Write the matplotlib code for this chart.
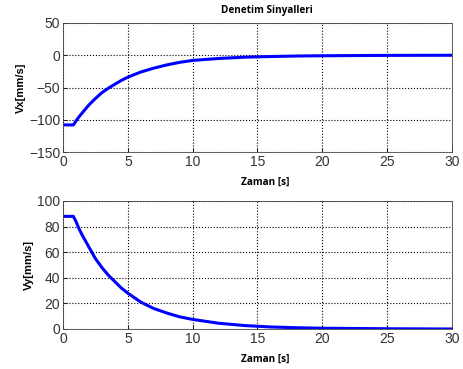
import matplotlib
matplotlib.use('Agg')
import matplotlib.pyplot as plt

# values
t = [0, 0.8, 1.0, 1.25, 1.5, 2, 2.5, 3, 3.5, 4, 4.5, 5, 6, 7, 8, 9, 10, 12, 14, 16, 18, 20, 25, 30]
vx = [-108, -108, -102, -95, -89, -77, -67, -58, -51, -45, -39, -34, -26, -20, -15, -11, -8, -5, -3, -2, -1.2, -0.8, -0.2, 0]
vy = [88, 88, 84, 78, 73, 64, 55, 48, 42, 37, 32, 28, 21, 16, 12.5, 9.5, 7.5, 4.5, 2.7, 1.6, 1.0, 0.6, 0.2, 0]

plt.rcParams['font.family'] = ['Liberation Sans', 'DejaVu Sans']
plt.rcParams['font.size'] = 10

fig = plt.figure(figsize=(4.64, 3.69), dpi=100)
ax1 = fig.add_axes([63 / 464, 1 - 152 / 369, 389 / 464, 129 / 369])
ax2 = fig.add_axes([63 / 464, 1 - 329 / 369, 389 / 464, 128 / 369])

lab_font = ['Open Sans', 'DejaVu Sans']
for ax, y, ylim, yticks, ylab in [
        (ax1, vx, (-150, 50), [-150, -100, -50, 0, 50], 'Vx[mm/s]'),
        (ax2, vy, (0, 100), [0, 20, 40, 60, 80, 100], 'Vy[mm/s]')]:
    ax.plot(t, y, color='#0000ff', lw=2.2)
    ax.set_xlim(0, 30)
    ax.set_ylim(*ylim)
    ax.set_xticks([0, 5, 10, 15, 20, 25, 30])
    ax.set_yticks(yticks)
    ax.grid(True, color='black', linestyle=':', linewidth=0.8)
    ax.tick_params(direction='in', length=3, width=0.6, pad=2, labelcolor='#333333')
    for s in ax.spines.values():
        s.set_linewidth(0.6)
        s.set_color('#444444')
    ax.set_xlabel('Zaman [s]', fontweight='bold', fontsize=7.2, family=lab_font, labelpad=4)
    ax.xaxis.set_label_coords(0.52, -0.19)
    ax.set_ylabel(ylab, fontweight='bold', fontsize=8, labelpad=2)

fig.text(267 / 464, 1 - 10 / 369, 'Denetim Sinyalleri', ha='center', va='center',
         fontweight='bold', fontsize=7.2, family=lab_font)

fig.savefig('out.png', dpi=100)
